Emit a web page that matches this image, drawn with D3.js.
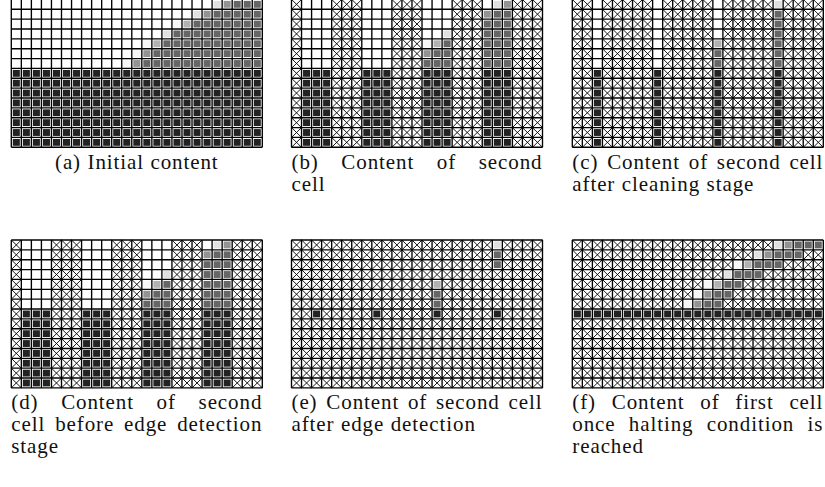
<!DOCTYPE html>
<html>
<head>
<meta charset="utf-8">
<script src="https://cdn.jsdelivr.net/npm/d3@7"></script>
<style>
  body { margin: 0; background: #fff; }
  svg { display: block; }
  .cap text { font-family: "Liberation Serif", "DejaVu Serif", serif; }
</style>
</head>
<body>
<div class="output"></div>
<script>
// cell codes: "." empty, "x" crossed out, "#" full, "0".."4" grey levels (light -> dark)
const panelA = [
    "....................13444",
    "..................1344444",
    "................024444444",
    "...............1444444444",
    ".............024444444444",
    "............0344444444444",
    "...........03444444444444",
    "#########################",
    "#########################",
    "#########################",
    "#########################",
    "#########################",
    "#########################",
    "#########################",
    "#########################"
];

const panelB = [
    "x...xxx...xxx...xxx.13xxx",
    "x...xxx...xxx...xxx344xxx",
    "x...xxx...xxx...xxx444xxx",
    "x...xxx...xxx..1xxx444xxx",
    "x...xxx...xxx024xxx444xxx",
    "x...xxx...xxx344xxx444xxx",
    "x...xxx...xxx444xxx444xxx",
    "x###xxx###xxx###xxx###xxx",
    "x###xxx###xxx###xxx###xxx",
    "x###xxx###xxx###xxx###xxx",
    "x###xxx###xxx###xxx###xxx",
    "x###xxx###xxx###xxx###xxx",
    "x###xxx###xxx###xxx###xxx",
    "x###xxx###xxx###xxx###xxx",
    "x###xxx###xxx###xxx###xxx"
];

const panelC = [
    "xx.xxxxx.xxxxx.xxxxx1xxxx",
    "xx.xxxxx.xxxxx.xxxxx4xxxx",
    "xx.xxxxx.xxxxx.xxxxx4xxxx",
    "xx.xxxxx.xxxxx.xxxxx4xxxx",
    "xx.xxxxx.xxxxx2xxxxx4xxxx",
    "xx.xxxxx.xxxxx4xxxxx4xxxx",
    "xx.xxxxx.xxxxx4xxxxx4xxxx",
    "xx#xxxxx#xxxxx#xxxxx#xxxx",
    "xx#xxxxx#xxxxx#xxxxx#xxxx",
    "xx#xxxxx#xxxxx#xxxxx#xxxx",
    "xx#xxxxx#xxxxx#xxxxx#xxxx",
    "xx#xxxxx#xxxxx#xxxxx#xxxx",
    "xx#xxxxx#xxxxx#xxxxx#xxxx",
    "xx#xxxxx#xxxxx#xxxxx#xxxx",
    "xx#xxxxx#xxxxx#xxxxx#xxxx"
];

const panelD = [
    "x...xxx...xxx...xxx.13xxx",
    "x...xxx...xxx...xxx344xxx",
    "x...xxx...xxx...xxx444xxx",
    "x...xxx...xxx..1xxx444xxx",
    "x...xxx...xxx024xxx444xxx",
    "x...xxx...xxx344xxx444xxx",
    "x...xxx...xxx444xxx444xxx",
    "x###xxx###xxx###xxx###xxx",
    "x###xxx###xxx###xxx###xxx",
    "x###xxx###xxx###xxx###xxx",
    "x###xxx###xxx###xxx###xxx",
    "x###xxx###xxx###xxx###xxx",
    "x###xxx###xxx###xxx###xxx",
    "x###xxx###xxx###xxx###xxx",
    "x###xxx###xxx###xxx###xxx"
];

const panelE = [
    "xxxxxxxxxxxxxxxxxxxx1xxxx",
    "xxxxxxxxxxxxxxxxxxxx4xxxx",
    "xxxxxxxxxxxxxxxxxxxx4xxxx",
    "xxxxxxxxxxxxxxxxxxxxxxxxx",
    "xxxxxxxxxxxxxx2xxxxxxxxxx",
    "xxxxxxxxxxxxxx4xxxxxxxxxx",
    "xxxxxxxxxxxxxx4xxxxxxxxxx",
    "xx#xxxxx#xxxxx#xxxxx#xxxx",
    "xxxxxxxxxxxxxxxxxxxxxxxxx",
    "xxxxxxxxxxxxxxxxxxxxxxxxx",
    "xxxxxxxxxxxxxxxxxxxxxxxxx",
    "xxxxxxxxxxxxxxxxxxxxxxxxx",
    "xxxxxxxxxxxxxxxxxxxxxxxxx",
    "xxxxxxxxxxxxxxxxxxxxxxxxx",
    "xxxxxxxxxxxxxxxxxxxxxxxxx"
];

const panelF = [
    "xxxxxxxxxxxxxxxxxxxx13444",
    "xxxxxxxxxxxxxxxxxx13444xx",
    "xxxxxxxxxxxxxxxx02444xxxx",
    "xxxxxxxxxxxxxxx1444xxxxxx",
    "xxxxxxxxxxxxx0244xxxxxxxx",
    "xxxxxxxxxxxx0344xxxxxxxxx",
    "xxxxxxxxxxx0344xxxxxxxxxx",
    "#########################",
    "xxxxxxxxxxxxxxxxxxxxxxxxx",
    "xxxxxxxxxxxxxxxxxxxxxxxxx",
    "xxxxxxxxxxxxxxxxxxxxxxxxx",
    "xxxxxxxxxxxxxxxxxxxxxxxxx",
    "xxxxxxxxxxxxxxxxxxxxxxxxx",
    "xxxxxxxxxxxxxxxxxxxxxxxxx",
    "xxxxxxxxxxxxxxxxxxxxxxxxx"
];

const captionA = ["(a) Initial content"];
const captionB = ["(b) Content of second", "cell"];
const captionC = ["(c) Content of second cell", "after cleaning stage"];
const captionD = ["(d) Content of second", "cell before edge detection", "stage"];
const captionE = ["(e) Content of second cell", "after edge detection"];
const captionF = ["(f) Content of first cell", "once halting condition is", "reached"];

const shadeCodes = ["0", "1", "2", "3", "4", "#"];
const shadeColors = ["#f6f6f6", "#e0e0e0", "#b2b2b2", "#939393", "#666666", "#222222"];

// layout
const W = 825, H = 487;
const nCols = 25, nRows = 15;
const cw = 10.04, ch = 9.86;
const lefts = [11.3, 291.5, 572.3];
const tops = [-0.6, 240];
const capBase = [169, 409];
const lineGap = 22;
const inset = 1.5;

const panels = [
    { grid: panelA, caption: captionA, col: 0, row: 0 },
    { grid: panelB, caption: captionB, col: 1, row: 0 },
    { grid: panelC, caption: captionC, col: 2, row: 0 },
    { grid: panelD, caption: captionD, col: 0, row: 1 },
    { grid: panelE, caption: captionE, col: 1, row: 1 },
    { grid: panelF, caption: captionF, col: 2, row: 1 }
];

let shade = d3.scaleOrdinal().domain(shadeCodes).range(shadeColors);

let x = d3.scaleBand()
    .domain(d3.range(nCols))
    .range([0, cw * nCols]);
let y = d3.scaleBand()
    .domain(d3.range(nRows))
    .range([0, ch * nRows]);
let gw = x.range()[1], gh = y.range()[1];

let svg = d3.select(".output")
    .append("svg")
    .attr("width", W)
    .attr("height", H);

panels.forEach((p) => {
    let g = svg.append("g")
        .attr("transform", "translate(" + lefts[p.col] + "," + tops[p.row] + ")");

    let cells = p.grid.flatMap((s, r) => s.split("").map((v, c) => ({ r: r, c: c, v: v })));

    // filled squares
    g.selectAll("rect.sq")
        .data(cells.filter((d) => shadeCodes.includes(d.v)))
        .enter().append("rect")
        .attr("class", "sq")
        .attr("x", (d) => x(d.c) + inset)
        .attr("y", (d) => y(d.r) + inset)
        .attr("width", x.bandwidth() - 2 * inset)
        .attr("height", y.bandwidth() - 2 * inset)
        .attr("fill", (d) => shade(d.v));

    // crossed-out cells
    g.selectAll("path.cross")
        .data(cells.filter((d) => d.v === "x"))
        .enter().append("path")
        .attr("class", "cross")
        .attr("d", (d) => {
            let x0 = x(d.c), x1 = x0 + x.bandwidth();
            let y0 = y(d.r), y1 = y0 + y.bandwidth();
            return "M" + x0 + "," + y0 + "L" + x1 + "," + y1 +
                "M" + x1 + "," + y0 + "L" + x0 + "," + y1;
        })
        .attr("stroke", "#000")
        .attr("stroke-width", 0.9)
        .attr("fill", "none");

    // grid
    g.selectAll("line.v")
        .data(d3.range(nCols + 1))
        .enter().append("line")
        .attr("x1", (c) => c * x.step()).attr("x2", (c) => c * x.step())
        .attr("y1", 0).attr("y2", gh)
        .attr("stroke", "#000")
        .attr("stroke-width", 1.35);
    g.selectAll("line.h")
        .data(d3.range(nRows + 1))
        .enter().append("line")
        .attr("y1", (r) => r * y.step()).attr("y2", (r) => r * y.step())
        .attr("x1", 0).attr("x2", gw)
        .attr("stroke", "#000")
        .attr("stroke-width", 1.35);

    // caption, justified like the LaTeX subcaption
    let cap = svg.append("g")
        .attr("class", "cap")
        .attr("transform", "translate(" + lefts[p.col] + "," + capBase[p.row] + ")")
        .style("font-size", "21px")
        .style("letter-spacing", "0.9px")
        .attr("fill", "#111");

    p.caption.forEach((line, i) => {
        let words = line.split(" ");
        let ws = words.map((w) => {
            let t = cap.append("text").attr("y", i * lineGap).text(w);
            return { node: t, len: t.node().getComputedTextLength() };
        });
        let total = d3.sum(ws, (d) => d.len);
        let last = i === p.caption.length - 1;
        let gap = 6.5;
        let start = 0;
        if (p.caption.length === 1) {
            start = (gw - total - gap * (words.length - 1)) / 2;
        } else if (!last) {
            gap = (gw - total) / (words.length - 1);
        }
        let pos = start;
        ws.forEach((d) => {
            d.node.attr("x", pos);
            pos += d.len + gap;
        });
    });
});
</script>
</body>
</html>
